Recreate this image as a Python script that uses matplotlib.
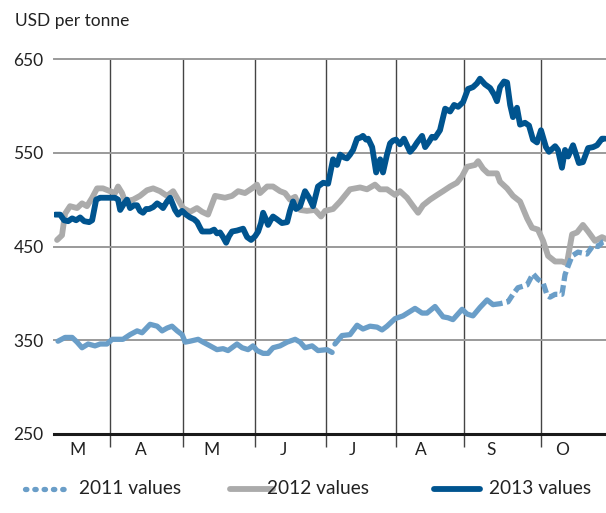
import numpy as np
import matplotlib.pyplot as plt
from matplotlib.lines import Line2D

plt.rcParams['font.family'] = ['Lato', 'DejaVu Sans']
plt.rcParams['lines.scale_dashes'] = False

# x values are days counted from 1 March, y values in USD per tonne
days_2013 = [7.7, 9.8, 11.5, 13.2, 14.9, 16.6, 18.3, 20.0, 22.1, 23.4, 25.1, 26.8, 28.9, 31.0,
             33.1, 34.4, 35.3, 37.0, 38.2, 39.5, 41.2, 42.5, 43.7, 45.0, 46.3, 47.6, 49.3, 51.0,
             52.2, 53.5, 55.2, 56.5, 57.8, 58.6, 59.9, 61.6, 63.3, 65.0, 66.7, 68.0, 69.2, 70.1,
             71.8, 73.5, 75.2, 76.4, 77.7, 79.0, 80.3, 81.5, 82.8, 84.9, 87.5, 89.2, 90.9, 92.6,
             93.9, 95.1, 96.0, 97.2, 98.1, 99.4, 100.2, 101.9, 104.0, 106.2, 107.4, 108.7, 110.0,
             111.7, 113.8, 115.5, 117.2, 119.3, 121.5, 123.6, 125.7, 127.4, 128.7, 130.4, 131.6,
             132.9, 134.2, 135.9, 137.2, 138.4, 139.7, 140.6, 142.3, 144.0, 145.7, 146.9, 148.6,
             149.9, 151.2, 152.4, 154.1, 155.8, 157.1, 158.4, 160.1, 161.4, 163.5, 164.8, 166.5,
             167.7, 169.0, 171.1, 173.3, 175.4, 177.1, 178.8, 180.9, 183.0, 185.1, 186.8, 188.1,
             190.2, 192.4, 194.1, 195.3, 196.6, 198.3, 199.6, 200.9, 202.1, 203.8, 205.1, 207.2,
             208.9, 210.6, 212.3, 214.0, 216.1, 217.4, 220.0, 221.2, 222.9, 224.2, 225.5, 227.6,
             228.9, 230.1, 231.8, 234.0, 236.1, 237.8, 239.9, 241.2]
usd_2013 = [484, 484, 478, 477, 480, 478, 481, 477, 476, 478, 500, 502, 502, 502,
            502, 500, 489, 496, 500, 491, 494, 494, 488, 486, 490, 490, 492, 496,
            494, 491, 498, 502, 494, 489, 484, 488, 484, 481, 479, 476, 470, 466,
            466, 466, 468, 464, 465, 460, 454, 461, 466, 467, 469, 460, 457, 461,
            466, 475, 486, 479, 473, 479, 482, 479, 475, 476, 488, 498, 490,
            493, 509, 502, 493, 514, 518, 517, 543, 537, 548, 545, 544,
            548, 553, 565, 566, 568, 564, 565, 556, 529, 543, 529, 548,
            560, 563, 564, 559, 565, 558, 551, 556, 561, 568, 556, 562,
            567, 566, 574, 597, 594, 601, 599, 604, 618, 620, 624, 629,
            623, 619, 612, 605, 620, 626, 625, 601, 588, 598, 580, 582,
            579, 564, 561, 574, 556, 551, 557, 553, 534, 553, 546, 558,
            548, 539, 540, 555, 556, 558, 565, 565]

days_2012 = [8.5, 10.6, 11.9, 14.0, 17.0, 19.1, 21.2, 23.4, 25.5, 28.0, 31.0, 33.1, 34.4, 36.1,
             37.4, 40.8, 43.7, 46.7, 49.3, 52.2, 55.2, 57.8, 59.9, 62.0, 65.0, 67.9, 70.1, 72.6,
             75.6, 79.8, 82.8, 85.4, 88.3, 91.3, 93.4, 94.7, 97.7, 100.2, 103.2, 105.3, 107.4,
             109.6, 111.7, 114.6, 118.0, 120.6, 122.3, 125.7, 128.7, 132.9, 137.2, 140.1, 143.5,
             145.6, 148.6, 152.0, 154.1, 157.1, 159.7, 161.8, 163.9, 166.9, 169.9, 172.4, 175.4,
             178.3, 180.5, 182.6, 186.0, 187.3, 189.4, 191.5, 195.3, 196.6, 199.6, 202.1, 205.1,
             208.1, 210.2, 212.7, 214.9, 217.0, 220.0, 222.9, 225.0, 227.2, 229.3, 231.8, 234.0,
             236.9, 239.9, 241.6]
usd_2012 = [457, 462, 485, 493, 491, 496, 493, 502, 512, 512, 509, 507, 514, 507,
            498, 500, 504, 510, 512, 509, 504, 509, 500, 491, 487, 491, 487, 484,
            504, 502, 504, 509, 507, 512, 516, 507, 514, 514, 509, 507, 500,
            503, 489, 488, 489, 482, 488, 490, 498, 511, 513, 511, 516,
            511, 511, 505, 509, 502, 493, 486, 494, 500, 505, 509, 514,
            518, 525, 535, 537, 541, 533, 528, 528, 519, 512, 504, 498,
            480, 470, 468, 456, 440, 434, 434, 432, 463, 465, 473, 466,
            456, 460, 458]

days_2011 = [8.9, 11.9, 14.9, 17.0, 19.1, 21.7, 24.6, 26.8, 29.7, 31.9, 34.0, 36.5, 39.5, 42.5,
             44.6, 48.0, 51.0, 53.1, 55.2, 57.3, 59.5, 61.6, 62.9, 65.0, 68.4, 70.5, 73.5, 76.4,
             79.0, 81.1, 84.9, 87.1, 89.6, 91.7, 93.4, 96.0, 98.1, 100.2, 103.2, 106.2, 109.6,
             111.7, 113.8, 116.8, 119.3, 123.1, 125.3, 125.9, 126.5, 129.5, 132.9, 135.9, 138.4,
             141.4, 144.4, 146.5, 148.6, 152.0, 155.4, 160.5, 163.5, 165.6, 169.0, 172.4, 174.5,
             176.6, 180.5, 182.6, 185.1, 188.1, 191.1, 193.6, 196.6, 200.0, 202.1, 204.2, 208.1,
             210.6, 212.7, 214.9, 216.6, 217.8, 220.0, 222.9, 224.2, 225.5, 227.2, 229.7, 233.5,
             236.1, 238.2, 240.3, 241.6]
usd_2011 = [349, 353, 353, 348, 342, 346, 344, 346, 346, 351, 351, 351, 356, 360,
            358, 367, 365, 360, 363, 365, 360, 356, 348, 349, 351, 348, 344, 340,
            341, 339, 346, 342, 340, 344, 339, 336, 336, 342, 344, 348, 351,
            348, 342, 344, 339, 340, 337, np.nan, 346, 355, 356, 366, 362,
            365, 364, 361, 365, 373, 376, 384, 379, 379, 386, 375, 374,
            372, 383, 378, 376, 385, 393, 388, 389, 391, 399, 406, 409,
            421, 415, 411, 398, 396, 399, 399, 420, 429, 440, 444, 442,
            451, 450, 455, 456]

month_starts = [31, 62, 92.5, 122.5, 152.5, 181.5, 214]
month_labels = ['M', 'A', 'M', 'J', 'J', 'A', 'S', 'O']
label_days = [17, 44, 74, 104.5, 134, 163, 193, 223]
dashed_from = 193.6   # 2011 line is drawn dashed from here on

c2011 = '#6a9ec8'
c2012 = '#ababab'
c2013 = '#00548f'

fig = plt.figure(figsize=(6.06, 5.13), dpi=100)
ax = fig.add_axes([54 / 606, 1 - 434 / 513, 1 - 54 / 606, (434 - 59) / 513])

d11 = np.array(days_2011)
v11 = np.array(usd_2011, dtype=float)
solid = d11 <= dashed_from
ax.plot(d11[solid], v11[solid], color=c2011, lw=3.8, solid_capstyle='round',
        solid_joinstyle='round', zorder=3)
ax.plot(d11[d11 >= dashed_from], v11[d11 >= dashed_from], color=c2011, lw=3.8,
        dashes=(7, 3), dash_joinstyle='round', zorder=3)
ax.plot(days_2012, usd_2012, color=c2012, lw=4.2, solid_joinstyle='round',
        solid_capstyle='round', zorder=2)
ax.plot(days_2013, usd_2013, color=c2013, lw=4.2, solid_joinstyle='round',
        solid_capstyle='round', zorder=4)

ax.set_xlim(7.2, 241.6)
ax.set_ylim(250, 650)
ax.set_yticks([250, 350, 450, 550, 650])
ax.set_xticks(month_starts)
ax.set_xticklabels([])
ax.set_xticks(label_days, minor=True)
ax.set_xticklabels(month_labels, minor=True)

ax.tick_params(axis='y', length=0, pad=7.5, labelsize=12.5, colors='#222222')
ax.tick_params(axis='x', which='major', length=9.5, width=1, color='#444444')
ax.tick_params(axis='x', which='minor', length=0, pad=6, labelsize=12.5, labelcolor='#222222')

ax.grid(axis='y', color='#9a9a9a', lw=1.4)
ax.grid(axis='x', which='major', color='#444444', lw=1)
ax.set_axisbelow(True)
for gl in ax.get_ygridlines():
    gl.set_clip_on(False)

for s in ['top', 'left', 'right']:
    ax.spines[s].set_visible(False)
ax.spines['bottom'].set_linewidth(2.2)
ax.spines['bottom'].set_color('#1a1a1a')
ax.spines['bottom'].set_zorder(5)

fig.text(15 / 606, 1 - 21 / 513, 'USD per tonne', fontsize=12.5, va='center', ha='left',
         color='#222222')

# legend drawn by hand along the bottom
ly = 1 - 489 / 513
fig.add_artist(Line2D([25 / 606, 68 / 606], [ly, ly], color=c2011, lw=3.8,
                      dashes=(1.0, 5.7), dash_capstyle='round'))
fig.add_artist(Line2D([230 / 606, 273 / 606], [ly, ly], color=c2012, lw=4.2,
                      solid_capstyle='round'))
fig.add_artist(Line2D([434 / 606, 480 / 606], [ly, ly], color=c2013, lw=4.2,
                      solid_capstyle='round'))
for x, t in [(79, '2011 values'), (267, '2012 values'), (489, '2013 values')]:
    fig.text(x / 606, ly, t, fontsize=13.8, va='center', ha='left', color='#222222')

fig.savefig('out.png', dpi=100)
